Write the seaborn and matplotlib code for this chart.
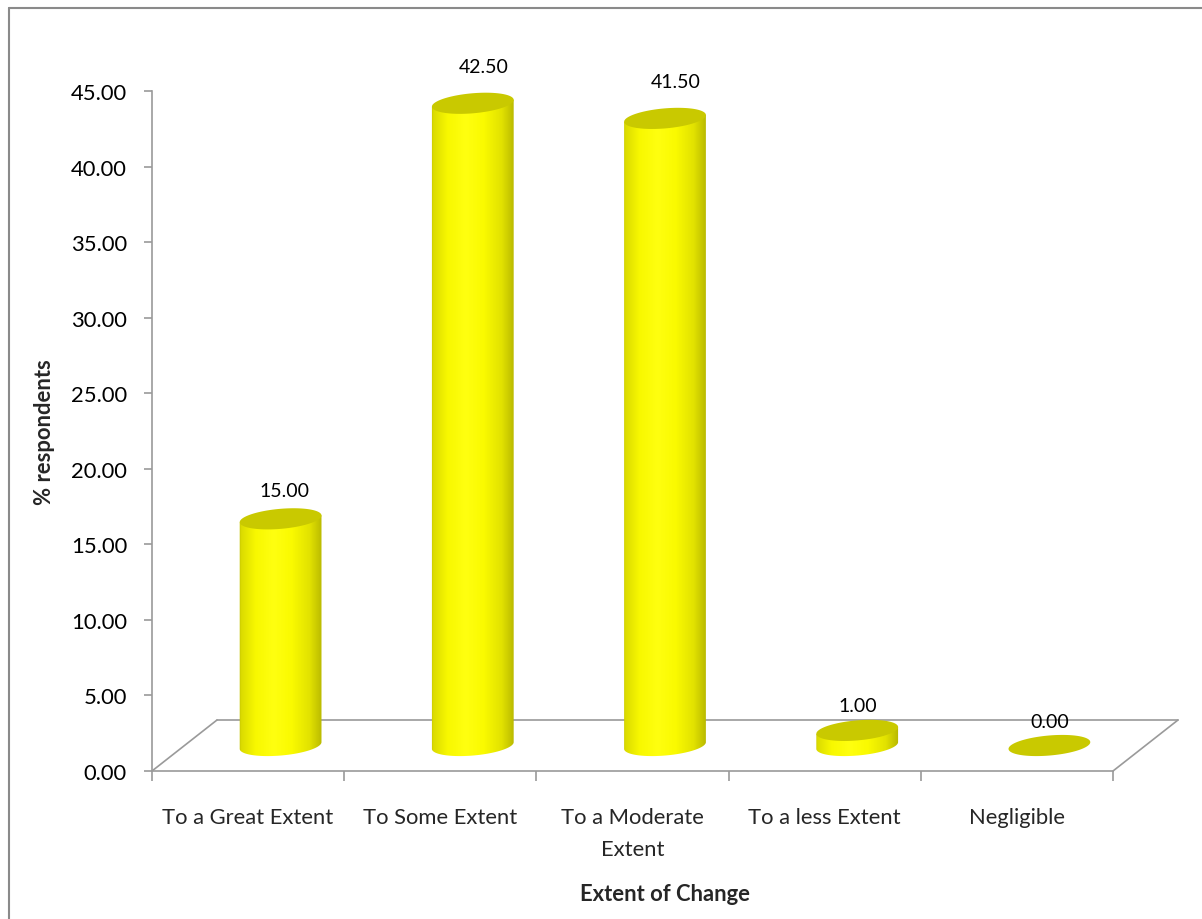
import numpy as np
import pandas as pd
import matplotlib
matplotlib.use("Agg")
import matplotlib.pyplot as plt
from matplotlib.colors import LinearSegmentedColormap
from matplotlib.patches import Polygon
from matplotlib.lines import Line2D
import seaborn as sns

# ---- data ----
categories = ["To a Great Extent", "To Some Extent", "To a Moderate\nExtent",
              "To a less Extent", "Negligible"]
values = [15.00, 42.50, 41.50, 1.00, 0.00]
y_ticks = [0, 5, 10, 15, 20, 25, 30, 35, 40, 45]

sns.set_style("white")
plt.rcParams["font.family"] = ["Lato", "DejaVu Sans"]

GRID = "#9a9a9a"
FS = 15.8

fig = plt.figure(figsize=(12.02, 9.2), dpi=100)
ax = fig.add_axes([152 / 1202, 148 / 920, 1026 / 1202, 680 / 920])

df = pd.DataFrame({"extent": categories, "pct": values})
sns.barplot(data=df, x="extent", y="pct", width=0.427, color="#ffff00",
            ax=ax, zorder=3)

# floor depth of the pseudo-3D box (data units)
DX = 65 / 192.2
DY = 3.375

ax.set_xlim(-0.5, 4.5 + DX)
ax.set_ylim(0, 45)
ax.set_aspect("auto")

# ---- axes styling ----
for s in ["top", "right"]:
    ax.spines[s].set_visible(False)
ax.spines["left"].set_color(GRID)
ax.spines["left"].set_bounds(0, 45)
ax.spines["bottom"].set_color(GRID)
ax.spines["bottom"].set_bounds(-0.5, 4.5)
for s in ["left", "bottom"]:
    ax.spines[s].set_linewidth(1.2)

ax.set_yticks(y_ticks)
ax.set_yticklabels([f"{t:.2f}" for t in y_ticks])
ax.tick_params(axis="y", direction="out", length=6, width=1.2, color=GRID,
               pad=12, labelsize=FS, labelcolor="black", left=True)

ax.set_xticks(np.arange(-0.5, 5.0, 1.0))
ax.set_xticklabels([])
ax.tick_params(axis="x", which="major", direction="out", length=7, width=1.2,
               color=GRID, bottom=True)
ax.set_xticks(np.arange(len(categories)), minor=True)
ax.set_xticklabels(categories, minor=True, fontsize=FS, linespacing=1.75)
ax.tick_params(axis="x", which="minor", length=0, pad=26)

ax.set_xlabel("Extent of Change", fontsize=FS, fontweight="bold", labelpad=17)
ax.set_ylabel("% respondents", fontsize=FS, fontweight="bold", labelpad=11)
ax.grid(False)

# ---- floor outline ----
floor_kw = dict(color=GRID, lw=1.2, zorder=1, clip_on=False)
ax.add_line(Line2D([-0.5 + DX, 4.5 + DX], [DY, DY], **floor_kw))
ax.add_line(Line2D([-0.5, -0.5 + DX], [0, DY], **floor_kw))
ax.add_line(Line2D([4.5, 4.5 + DX], [0, DY], **floor_kw))

# ---- cylinders ----
body_cmap = LinearSegmentedColormap.from_list(
    "cyl", [(0.0, "#a9a900"), (0.06, "#dcdc00"), (0.22, "#f8f800"),
            (0.42, "#ffff10"), (0.62, "#fafa00"), (0.82, "#e2e200"),
            (0.95, "#bcbc00"), (1.0, "#a4a400")])
gradient = np.linspace(0, 1, 256).reshape(1, -1)

tilt = np.deg2rad(5)
ell_h_px = 20.0
inv = ax.transData.inverted()


def ellipse(cx, cy, w, phis):
    c = ax.transData.transform((cx, cy))
    a = ax.transData.transform((cx + w / 2, cy))[0] - c[0]
    b = ell_h_px / 2 * fig.dpi / 100
    px = a * np.cos(phis)
    py = b * np.sin(phis)
    xs = c[0] + px * np.cos(tilt) - py * np.sin(tilt)
    ys = c[1] + px * np.sin(tilt) + py * np.cos(tilt)
    return inv.transform(np.column_stack([xs, ys]))


bars = list(ax.containers[0])
base = DY / 2
for p, v in zip(bars, values):
    p.set_x(p.get_x() + DX / 2)
    p.set_y(base)
    p.set_visible(False)
    x0, w, h = p.get_x(), p.get_width(), p.get_height()
    cx = x0 + w / 2
    top = base + h

    if h > 0:
        arc = ellipse(cx, base, w, np.linspace(np.pi, 2 * np.pi, 80))
        tr = ellipse(cx, top, w, np.array([0.0]))
        tl = ellipse(cx, top, w, np.array([np.pi]))
        outline = np.vstack([tl, arc, tr])
        body = Polygon(outline, closed=True, facecolor="none",
                       edgecolor="none", transform=ax.transData)
        ax.add_patch(body)
        im = ax.imshow(gradient, cmap=body_cmap, aspect="auto",
                       extent=(x0 - 0.02, x0 + w + 0.02, base - 2, top + 2),
                       zorder=3, interpolation="bilinear")
        im.set_clip_path(body)

    cap = ellipse(cx, top, w, np.linspace(0, 2 * np.pi, 120))
    ax.add_patch(Polygon(cap, closed=True, facecolor="#c9c900",
                         edgecolor="none", zorder=4))

    ax.text(cx + 0.0013 * v, top + 1.6 + 0.02 * v, f"{v:.2f}",
            ha="center", va="center", fontsize=14, color="black", zorder=5)

ax.set_xlim(-0.5, 4.5 + DX)
ax.set_ylim(0, 45)
ax.set_aspect("auto")

# ---- chart area border (top and left edges) ----
fig.add_artist(Line2D([9 / 1202, 1.0], [1 - 9 / 920, 1 - 9 / 920],
                      color="#8a8a8a", lw=1.5, transform=fig.transFigure))
fig.add_artist(Line2D([9 / 1202, 9 / 1202], [0.0, 1 - 9 / 920],
                      color="#8a8a8a", lw=1.5, transform=fig.transFigure))

fig.savefig("out.png", dpi=100, facecolor="white")
